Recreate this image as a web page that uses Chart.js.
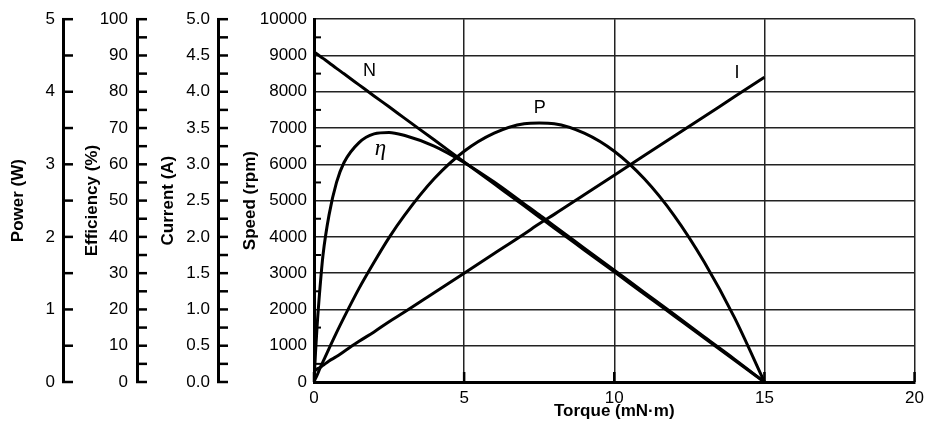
<!DOCTYPE html>
<html>
<head>
<meta charset="utf-8">
<script src="https://cdn.jsdelivr.net/npm/chart.js@4.4.1/dist/chart.umd.min.js"></script>
<style>
  html, body { margin: 0; padding: 0; background: #fff; }
  #wrap { width: 930px; height: 430px; }
</style>
</head>
<body>
<div id="wrap"><canvas id="motorChart"></canvas></div>
<script>
// ===== DATA =====
const torque     = [0, 0.05, 0.1, 0.2, 0.3, 0.5, 0.75, 1, 1.5, 2, 2.5, 3, 4, 5, 6, 7, 7.5, 8, 9, 10, 11, 12, 13, 14, 15];
const speed      = [9100, 9070, 9040, 8980, 8920, 8800, 8645, 8495, 8190, 7885, 7585, 7280, 6675, 6065, 5460, 4855, 4550, 4245, 3640, 3035, 2425, 1820, 1215, 605, 0];
const current    = [0.15, 0.16, 0.18, 0.20, 0.23, 0.29, 0.35, 0.42, 0.56, 0.69, 0.83, 0.96, 1.23, 1.50, 1.77, 2.04, 2.18, 2.31, 2.58, 2.85, 3.12, 3.39, 3.66, 3.93, 4.20];
const power      = [0, 0.05, 0.09, 0.19, 0.28, 0.46, 0.68, 0.89, 1.29, 1.65, 1.99, 2.29, 2.80, 3.18, 3.43, 3.56, 3.57, 3.56, 3.43, 3.18, 2.80, 2.29, 1.65, 0.89, 0];
const efficiency = [0, 8, 15, 26, 35, 46, 55, 60.5, 66, 68.4, 68.8, 68, 65, 60.5, 55.1, 49.1, 46.1, 43.0, 36.9, 30.8, 24.7, 18.6, 12.4, 6.3, 0];

// curve labels: [text, torque, speed-axis value]
const curveLabels = [
  ["N", 1.85, 8570],
  ["P", 7.52, 7560],
  ["\u03B7", 2.21, 6420],
  ["I", 14.09, 8510]
];

// ===== HELPERS =====
const tickFont = { family: "'Liberation Sans', Arial, sans-serif", size: 17 };
const titleFont = { family: "'Liberation Sans', Arial, sans-serif", size: 17, weight: "bold" };

function pts(ys) {
  return torque.map((t, i) => ({ x: t, y: ys[i] }));
}

function curve(ys, axis) {
  return {
    data: pts(ys),
    yAxisID: axis,
    borderColor: "#000",
    borderWidth: 3,
    pointRadius: 0,
    cubicInterpolationMode: "monotone",
    fill: false
  };
}

function sideAxis(opts) {
  return {
    type: "linear",
    position: "left",
    weight: opts.weight,
    min: opts.min,
    max: opts.max,
    ticks: { stepSize: opts.step, padding: opts.pad, font: tickFont, color: "#000", callback: opts.fmt },
    grid: { drawOnChartArea: false, drawTicks: false },
    border: { display: true, color: "#000", width: 3 },
    title: { display: true, text: opts.title, font: titleFont, color: "#000", padding: { top: opts.titlePad, bottom: 0 } },
    afterFit: s => { s.width = opts.width; },
    minorStep: opts.minor
  };
}

// small tick marks pointing right on the side axes, inner ticks on the speed/torque axes
const tickMarks = {
  id: "tickMarks",
  afterDraw(chart) {
    const c = chart.ctx;
    const area = chart.chartArea;
    c.save();
    c.strokeStyle = "#000";
    c.lineCap = "butt";
    ["yP", "yE", "yI"].forEach(id => {
      const s = chart.scales[id];
      const step = s.options.minorStep;
      c.lineWidth = 2.5;
      for (let v = s.min; v <= s.max + 1e-9; v += step) {
        const y = s.getPixelForValue(v);
        c.beginPath();
        c.moveTo(s.right - 1, y);
        c.lineTo(s.right + 10, y);
        c.stroke();
      }
    });
    const sy = chart.scales.y;
    c.lineWidth = 2;
    for (let v = 500; v < sy.max; v += 1000) {
      const y = sy.getPixelForValue(v);
      c.beginPath();
      c.moveTo(area.left, y);
      c.lineTo(area.left + 7, y);
      c.stroke();
    }
    const sx = chart.scales.x;
    c.lineWidth = 2.5;
    sx.ticks.forEach(t => {
      const x = sx.getPixelForValue(t.value);
      c.beginPath();
      c.moveTo(x, area.bottom);
      c.lineTo(x, area.bottom - 10);
      c.stroke();
    });
    c.restore();
  }
};

const curveNames = {
  id: "curveNames",
  afterDatasetsDraw(chart) {
    const c = chart.ctx;
    const sx = chart.scales.x, sy = chart.scales.y;
    c.save();
    c.fillStyle = "#000";
    c.textAlign = "center";
    c.textBaseline = "middle";
    curveLabels.forEach(([txt, t, v]) => {
      c.font = txt === "\u03B7"
        ? "italic 23px 'Liberation Serif', 'DejaVu Serif', serif"
        : "18px 'Liberation Sans', Arial, sans-serif";
      c.fillText(txt, sx.getPixelForValue(t), sy.getPixelForValue(v));
    });
    c.restore();
  }
};

// ===== CHART =====
const ctx = document.getElementById("motorChart").getContext("2d");

new Chart(ctx, {
  type: "line",
  data: {
    datasets: [
      curve(speed, "y"),
      curve(current, "yI"),
      curve(power, "yP"),
      curve(efficiency, "yE")
    ]
  },
  options: {
    responsive: true,
    maintainAspectRatio: false,
    animation: false,
    layout: { padding: { left: 0, right: 10, top: 19, bottom: 0 } },
    plugins: { legend: { display: false }, tooltip: { enabled: false } },
    scales: {
      x: {
        type: "linear",
        min: 0,
        max: 20,
        ticks: { stepSize: 5, padding: 6, font: tickFont, color: "#000" },
        grid: { color: "#222", lineWidth: 1.5, drawTicks: false },
        border: { color: "#000", width: 3 },
        title: { display: true, text: "Torque (mN\u00B7m)", font: titleFont, color: "#000", padding: { top: 0, bottom: 8 } },
        afterFit: s => { s.height = 48; }
      },
      y: {
        type: "linear",
        position: "left",
        weight: 0,
        min: 0,
        max: 10000,
        ticks: { stepSize: 1000, padding: 7, font: tickFont, color: "#000", callback: v => String(v) },
        grid: { color: "#222", lineWidth: 1.5, drawTicks: false },
        border: { color: "#000", width: 3 },
        title: { display: true, text: "Speed (rpm)", font: titleFont, color: "#000", padding: { top: 22, bottom: 0 } },
        afterFit: s => { s.width = 96; }
      },
      yI: sideAxis({ weight: 1, min: 0, max: 5, step: 0.5, minor: 0.25, pad: 8, width: 81, titlePad: 21, title: "Current (A)", fmt: v => v.toFixed(1) }),
      yE: sideAxis({ weight: 2, min: 0, max: 100, step: 10, minor: 5, pad: 9, width: 74, titlePad: 19, title: "Efficiency (%)", fmt: v => String(v) }),
      yP: sideAxis({ weight: 3, min: 0, max: 5, step: 1, minor: 0.5, pad: 8, width: 63, titlePad: 8, title: "Power (W)", fmt: v => String(v) })
    }
  },
  plugins: [tickMarks, curveNames]
});
</script>
</body>
</html>
